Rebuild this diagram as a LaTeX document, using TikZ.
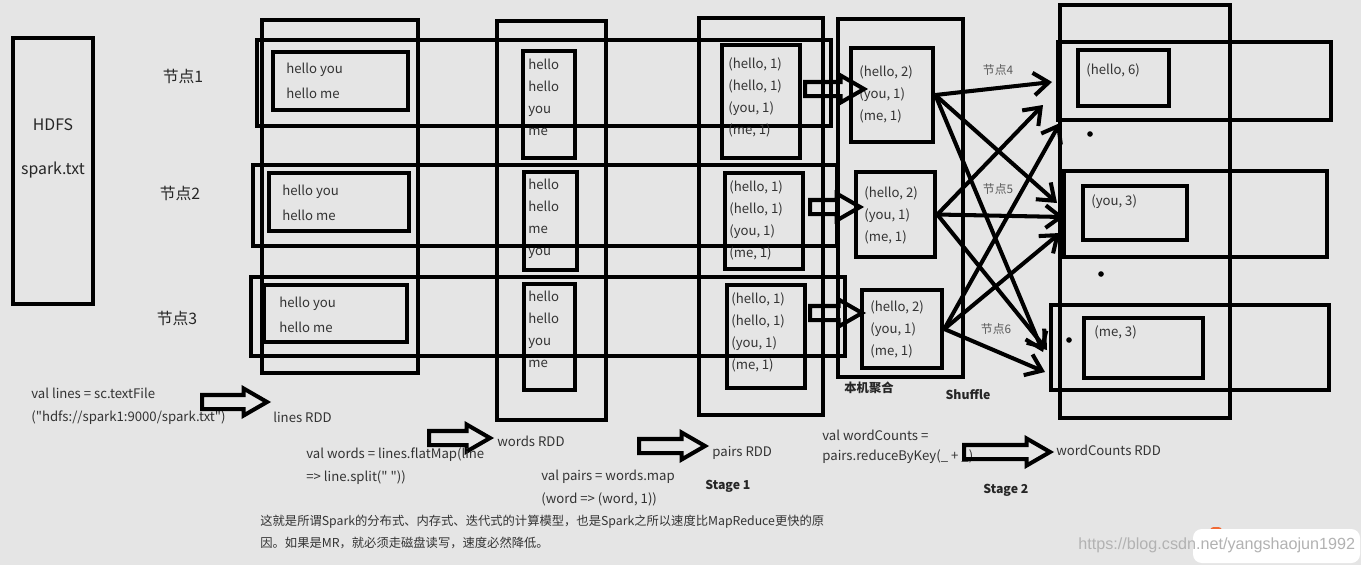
\documentclass[tikz,border=0pt]{standalone}
\usepackage{fontspec}
\newfontfamily\cjk{Noto Sans CJK SC}
\newfontfamily\wmfont{Liberation Sans}
\usetikzlibrary{shapes.arrows}
\usetikzlibrary{arrows.meta}
\usetikzlibrary{fit}
\definecolor{bggray}{HTML}{E5E5E5}
\definecolor{wmorange}{HTML}{F06A35}

\begin{document}
\begin{tikzpicture}[x=0.02cm,y=-0.02cm,
    box/.style={draw,line width=2.6pt,inner sep=0pt},
    frame/.style={draw,line width=2.6pt},
    txtl/.style={font=\cjk\fontsize{7.5}{14.2}\selectfont,text=black!80,align=left,inner sep=0pt,anchor=north west},
    txt/.style={font=\cjk\fontsize{7.5}{12.5}\selectfont,text=black!80,align=left,inner sep=0pt,anchor=north west},
    code/.style={font=\cjk\fontsize{7.5}{9}\selectfont,text=black!80,inner sep=0pt,anchor=west},
    nodelbl/.style={font=\cjk\fontsize{9}{10}\selectfont,text=black!85,inner sep=0pt},
    smalllbl/.style={font=\cjk\fontsize{6.7}{8}\selectfont,text=black!65,inner sep=0pt},
    boldlbl/.style={font=\cjk\bfseries\fontsize{7}{8}\selectfont,text=black!85,inner sep=0pt},
    note/.style={font=\cjk\fontsize{7}{8}\selectfont,text=black!80,inner sep=0pt,anchor=west},
    blockarrow/.style={single arrow,draw,line width=2.3pt,inner xsep=0pt,inner ysep=1mm,
        single arrow head extend=1.3mm,single arrow tip angle=60,anchor=tail},
    shuf/.style={-{Straight Barb[length=3mm,width=4.5mm]},line width=2.3pt}]

  % background and margins
  \fill[bggray] (0,0) rectangle (1361,565);
  \useasboundingbox (0,0) rectangle (1361,565);

  % HDFS
  \node[box,fit={(13,38) (93,304)}] (hdfs) {};
  \node[nodelbl] (hdfst) at (53,125) {HDFS};
  \node[nodelbl] (sparkt) at (53,170) {spark.txt};

  \node[nodelbl] (n1) at (183,76) {节点1};
  \node[nodelbl] (n2) at (180,193) {节点2};
  \node[nodelbl] (n3) at (177,318) {节点3};

  % frames of the rdds and the three nodes
  \draw[frame] (262,20) rectangle (418,373);
  \draw[frame] (257,40) rectangle (831,126);
  \draw[frame] (253,165) rectangle (837,246);
  \draw[frame] (251,277) rectangle (845,356);
  \draw[frame] (497,21) rectangle (606,420);
  \draw[frame] (699,18) rectangle (823,415);
  \draw[frame] (838,19) rectangle (963,377);
  \draw[frame] (1060,5) rectangle (1230,418);
  \draw[frame] (1058,42) rectangle (1331,120);
  \draw[frame] (1064,171) rectangle (1327,257);
  \draw[frame] (1051,305) rectangle (1329,390);

  % lines RDD
  \node[box,fit={(273,52) (408,110)}] (l1) {};
  \node[box,fit={(269,173) (409,231)}] (l2) {};
  \node[box,fit={(264,285) (407,342)}] (l3) {};
  \node[txtl] (l1t) at (286,63) {hello you\\hello me};
  \node[txtl] (l2t) at (282,185) {hello you\\hello me};
  \node[txtl] (l3t) at (279,297) {hello you\\hello me};

  % words RDD
  \node[box,fit={(523,51) (575,158)}] (w1) {};
  \node[box,fit={(524,172) (577,270)}] (w2) {};
  \node[box,fit={(524,284) (575,390)}] (w3) {};
  \node[txt] (w1t) at (528,59) {hello\\hello\\you\\me};
  \node[txt] (w2t) at (528,179) {hello\\hello\\me\\you};
  \node[txt] (w3t) at (528,291) {hello\\hello\\you\\me};

  % pairs RDD
  \node[box,fit={(722,45) (800,158)}] (p1) {};
  \node[box,fit={(725,173) (803,269)}] (p2) {};
  \node[box,fit={(727,285) (805,388)}] (p3) {};
  \node[txt] (p1t) at (728,57) {(hello, 1)\\(hello, 1)\\(you, 1)\\(me, 1)};
  \node[txt] (p2t) at (729,180) {(hello, 1)\\(hello, 1)\\(you, 1)\\(me, 1)};
  \node[txt] (p3t) at (731,292) {(hello, 1)\\(hello, 1)\\(you, 1)\\(me, 1)};

  % local combine
  \node[box,fit={(851,48) (933,142)}] (c1) {};
  \node[box,fit={(856,172) (935,257)}] (c2) {};
  \node[box,fit={(862,290) (942,368)}] (c3) {};
  \node[txt] (c1t) at (859,65) {(hello, 2)\\(you, 1)\\(me, 1)};
  \node[txt] (c2t) at (864,186) {(hello, 2)\\(you, 1)\\(me, 1)};
  \node[txt] (c3t) at (870,300) {(hello, 2)\\(you, 1)\\(me, 1)};
  \node[boldlbl] (combine) at (869,388) {本机聚合};
  \node[boldlbl] (shuffle) at (968,395) {Shuffle};

  % wordCounts RDD
  \node[box,fit={(1078,50) (1169,106)}] (r1) {};
  \node[box,fit={(1083,186) (1187,240)}] (r2) {};
  \node[box,fit={(1084,318) (1203,378)}] (r3) {};
  \node[txt] (r1t) at (1086,63) {(hello, 6)};
  \node[txt] (r2t) at (1091,194) {(you, 3)};
  \node[txt] (r3t) at (1094,325) {(me, 3)};
  \fill (1090,134) circle (2.8);
  \fill (1101,274) circle (2.8);
  \fill (1069,340) circle (2.8);

  \node[smalllbl] (n4) at (998,70) {节点4};
  \node[smalllbl] (n5) at (998,189) {节点5};
  \node[smalllbl] (n6) at (996,329) {节点6};

  % pairs -> local combine
  \node[blockarrow,minimum height=11.8mm] (pc1) at (803,89) {};
  \node[blockarrow,minimum height=10mm] (pc2) at (808,207) {};
  \node[blockarrow,minimum height=10.4mm] (pc3) at (808,313) {};

  % shuffle
  \coordinate (in1a) at (1052,82);
  \coordinate (in2a) at (1057,203);
  \coordinate (in3a) at (1043,352);
  \coordinate (in1b) at (1043,105);
  \coordinate (in2b) at (1064,217);
  \coordinate (in3b) at (1047,350);
  \coordinate (in1c) at (1060,123);
  \coordinate (in2c) at (1060,233);
  \coordinate (in3c) at (1045,372);
  \draw[shuf] (c1.east) -- (in1a);
  \draw[shuf] (c1.east) -- (in2a);
  \draw[shuf] (c1.east) -- (in3a);
  \draw[shuf] (c2.east) -- (in1b);
  \draw[shuf] (c2.east) -- (in2b);
  \draw[shuf] (c2.east) -- (in3b);
  \draw[shuf] (c3.east) -- (in1c);
  \draw[shuf] (c3.east) -- (in2c);
  \draw[shuf] (c3.east) -- (in3c);

  % code below
  \node[code] (linescode) at (31,393) {val lines = sc.textFile};
  \node[code] (linescode2) at (31,418) {("hdfs://spark1:9000/spark.txt")};
  \node[blockarrow,minimum height=13mm] (ba1) at (200,402) {};
  \node[code] (linesrdd) at (273,417) {lines RDD};

  \node[blockarrow,minimum height=12.2mm] (ba2) at (427,438) {};
  \node[code] (wordsrdd) at (497,441) {words RDD};
  \node[code] (wordscode) at (306,455) {val words = lines.flatMap(line};
  \node[code] (wordscode2) at (306,478) {=> line.split(" "))};

  \node[code] (pairscode) at (541,477) {val pairs = words.map};
  \node[code] (pairscode2) at (541,499) {(word => (word, 1))};
  \node[blockarrow,minimum height=13.2mm] (ba3) at (637,446) {};
  \node[code] (pairsrdd) at (712,453) {pairs RDD};
  \node[boldlbl,anchor=west] (stage1) at (705,486) {Stage 1};

  \node[code] (countscode) at (822,435) {val wordCounts =};
  \node[code] (countscode2) at (822,457) {pairs.reduceByKey(\_ + \_)};
  \node[blockarrow,minimum height=17.2mm] (ba4) at (962,452) {};
  \node[code] (countsrdd) at (1056,450) {wordCounts RDD};
  \node[boldlbl,anchor=west] (stage2) at (983,490) {Stage 2};

  \node[note] (note1) at (260,522) {这就是所谓Spark的分布式、内存式、迭代式的计算模型，也是Spark之所以速度比MapReduce更快的原};
  \node[note] (note2) at (260,543) {因。如果是MR，就必须走磁盘读写，速度必然降低。};

  % watermark
  \fill[wmorange,rounded corners=2] (1210,527) rectangle (1222,536);
  \fill[white,rounded corners=5] (1193,529) rectangle (1360,563);
  \node[font=\wmfont\fontsize{9.2}{10}\selectfont,text=black!30,anchor=west,inner sep=0pt] (wmark) at (1078,545) {https://blog.csdn.net/yangshaojun1992};
\end{tikzpicture}
\end{document}
